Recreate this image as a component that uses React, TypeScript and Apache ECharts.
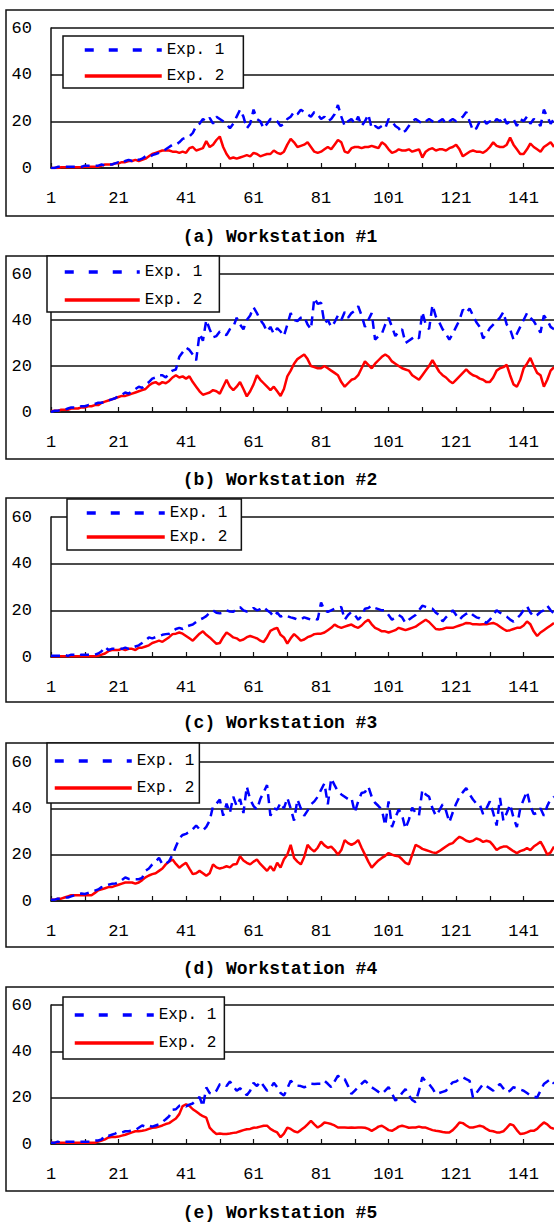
import React, { useEffect, useRef } from "react";
import * as echarts from "echarts";

// ---------------- DATA ----------------
const categories: string[] = Array.from({ length: 150 }, (_, i) => String(i + 1));
const seriesNames = ["Exp. 1", "Exp. 2"];
const captions = [
  "(a) Workstation #1",
  "(b) Workstation #2",
  "(c) Workstation #3",
  "(d) Workstation #4",
  "(e) Workstation #5",
];
const yMin = 0;
const yMax = 60;
const yStep = 20;

const ws1Exp1 = [
  0, 0, 0.5, 0.5, 0.5, 0.5, 0.5, 0.5, 0.5, 0.5,
  1, 1, 1, 1, 1, 1.5, 1, 1.5, 1.5, 2,
  2.5, 2, 3, 3.5, 3, 4, 3.5, 4, 5, 4.5,
  5.5, 6, 6.5, 7, 8, 9, 10, 10, 11, 12.5,
  13, 13.5, 15, 18, 19, 21, 20, 21.5, 19, 22,
  21, 20, 19, 17, 19, 22, 25, 22, 17, 19,
  25, 21, 20, 17, 19, 21, 21, 20, 18, 19,
  21, 22, 24, 23, 25, 24, 23, 22, 24, 23,
  21, 22, 20, 21, 23, 27, 22, 18, 20, 21,
  19, 22, 18, 20, 23, 17, 18, 17, 18, 17,
  21, 20, 18, 17, 15, 16, 18, 20, 21, 20,
  19, 20, 21, 20, 19, 20, 21, 19, 20, 21,
  20, 21, 22, 24, 20, 16, 17, 20, 21, 19,
  20, 19, 21, 20, 22, 19, 20, 21, 18, 21,
  20, 22, 19, 21, 20, 18, 25, 22, 19, 21,
];
const ws1Exp2 = [
  0, 0, 0, 0.3, 0.3, 0.3, 0.3, 0.3, 0.3, 0.3,
  0.5, 0.5, 0.5, 0.5, 0.5, 1, 1.5, 1.5, 1.5, 2,
  2, 2.5, 2.5, 3, 3, 3.5, 3, 3.5, 4, 5,
  6, 6.5, 7, 7.5, 7.5, 7.5, 7, 7, 6.5, 7,
  6.5, 8.5, 9, 7.5, 8, 8.5, 11.5, 9, 10, 12,
  13.5, 9, 6, 4, 4.5, 4, 4.5, 5, 5.5, 5,
  6.5, 6, 5, 5.5, 6, 6, 7.5, 6.5, 6, 7,
  10, 12.5, 11, 9, 9.5, 10, 11, 9, 7, 6.5,
  7, 8, 9, 8, 10, 12, 11, 7, 6.5, 8.5,
  9, 9, 8.5, 9, 9, 9.5, 9, 8.5, 11, 10,
  8, 6.5, 7, 8, 7.5, 7.5, 8, 7, 7.5, 8,
  4.5, 7, 8, 8.5, 7.5, 8, 8, 7.5, 8.5, 9,
  10, 8, 5, 6, 7, 7.5, 7, 7, 6.5, 7.5,
  9, 11, 9.5, 9, 9, 10, 13, 10, 8, 6,
  6, 8, 10.5, 9, 8, 7, 9, 10, 11, 9,
];
const ws2Exp1 = [
  0, 0.5, 0.5, 1, 1, 1.5, 2, 2, 2, 2.5,
  2.5, 3, 3, 3.5, 4, 4, 4.5, 5, 5.5, 6,
  7, 7.5, 8.5, 8, 9, 10, 11, 10.5, 12, 13,
  14.5, 15, 16, 16, 15, 17, 18, 18.5, 24, 26,
  28, 27, 25, 22.5, 34, 31, 40, 36, 32.5, 33,
  35, 34, 33.5, 36, 37, 41, 38, 36, 40, 42,
  45.5, 43, 40, 38, 35, 37, 34, 36.5, 35, 33,
  38, 43, 40, 39.5, 41, 41.5, 38, 36, 49.5, 47,
  47.5, 38.5, 40, 37, 39, 42, 40, 43.5, 41, 43,
  44, 46, 42, 37, 40, 43, 31.5, 33, 34, 38,
  41, 37, 33, 35, 36, 30, 31, 32, 33, 32,
  43.5, 38, 36, 46.5, 41.5, 39, 36, 34, 31.5, 34,
  37, 40, 44.5, 43, 45, 42, 39, 37, 32, 34,
  36.5, 38, 39.5, 41, 43.5, 38, 36, 31.5, 34, 37,
  40, 43, 41, 39.5, 37, 34.5, 42, 40, 37, 36,
];
const ws2Exp2 = [
  0.3, 0.5, 0.5, 1, 1, 1, 1.5, 1.5, 1.5, 2,
  2, 2.5, 2.5, 3, 3, 4, 4.5, 5, 5.5, 6,
  6.5, 7, 7, 7.5, 8, 8.5, 9, 9.5, 10, 11.5,
  12.5, 13, 12, 13, 12.5, 13.5, 15, 16, 15, 15.5,
  14.5, 15.5, 13, 11, 9, 7.5, 8, 8.5, 9.5, 9,
  8, 11, 14, 11, 9.5, 11, 13, 10, 6.8, 9,
  12, 16, 14, 12.5, 11, 9.5, 11, 9, 7, 10,
  15.5, 18, 21, 23, 24, 25, 23, 20, 19.5, 19,
  19, 20, 19, 18, 17, 16, 13, 11, 12.5, 14,
  14.5, 16, 19, 22, 20.5, 19, 21, 22.5, 24, 25,
  24, 22, 21, 20, 19, 18.5, 18, 16, 15, 14,
  16, 18, 20, 22.5, 20, 17.5, 16, 15, 13.5, 12.5,
  14, 15.5, 17, 18.5, 17, 16, 15.5, 14.5, 14, 13,
  13, 15, 18, 19, 19.5, 20.5, 16, 12, 11, 14,
  19, 21, 23.5, 20, 17, 16, 11, 14, 18, 19.5,
];
const ws3Exp1 = [
  0.5, 0.5, 0.5, 0.5, 1, 0.5, 1, 1, 0.5, 1,
  1, 1, 1, 1, 1.5, 2.5, 4.4, 3, 3.5, 3.5,
  3.5, 3.5, 4, 3.5, 4, 4.5, 5, 6, 7, 8.4,
  8, 8.5, 9, 9.5, 9.8, 10, 11, 12, 12.5, 12,
  13, 13.5, 13.9, 15, 16, 16.6, 17.5, 19, 20, 19,
  18.7, 19, 20, 19.5, 19.4, 20.5, 21.4, 20, 19.5, 20,
  21, 20, 20.5, 21.4, 20, 19, 17.3, 19, 17.3, 18,
  17.5, 17, 16.6, 16, 16, 17, 16.5, 16, 16.5, 16,
  23.4, 20, 19.3, 20, 20.7, 21, 21.4, 16, 18, 19.3,
  18, 16, 17.5, 20.7, 21, 22, 21, 20.5, 20, 20,
  18, 16, 17, 18, 17, 14.6, 16, 17, 18, 20,
  22, 21.5, 21, 20.7, 19, 18, 15.2, 17, 18.5, 20,
  18, 16, 17.5, 18.5, 19.3, 18, 17, 16.6, 15.5, 14.6,
  16, 18, 20, 19, 18, 17.3, 16, 15.2, 16.5, 18,
  20, 21.8, 19, 17.3, 18, 19.3, 20, 22, 20, 18.7,
];
const ws3Exp2 = [
  0.3, 0.3, 0.3, 0.3, 0.3, 0.3, 0.3, 0.3, 0.3, 0.3,
  0.3, 0.3, 0.3, 0.3, 0.5, 1, 1.5, 2.5, 3, 3,
  3, 3.5, 3, 3.5, 3.5, 3, 4, 4, 4.5, 5,
  6, 6.5, 7, 6.5, 7.5, 8.5, 9.8, 10, 10.5, 10,
  9, 8, 7, 8.5, 10, 11, 9.5, 8.4, 7, 5.7,
  6, 8.5, 10.5, 9.5, 8.4, 8, 7, 7.5, 8.5, 9,
  8.5, 8, 7, 6.4, 8.5, 11.2, 12, 12.5, 9.5, 8.4,
  5.7, 8, 9.8, 8.5, 7, 7.5, 8.5, 9, 9.8, 10,
  10, 10.5, 11.5, 12.5, 13.9, 13, 12.5, 13, 13.5, 13.9,
  13, 12.5, 13.5, 15, 16, 14, 12.5, 11.8, 11, 11,
  10.5, 11, 11.5, 12.5, 12, 11.5, 12, 12.5, 13, 14,
  15, 16, 15, 13.5, 12, 11.8, 12, 12.5, 12.5, 12.5,
  13, 13.5, 14, 14.6, 14.5, 14, 14, 13.9, 14, 14,
  14.3, 14.6, 14, 13, 12, 11.2, 11.5, 12, 12.5, 12.5,
  13.5, 15.2, 14, 11, 9, 10.5, 11.5, 12.5, 13.5, 14.6,
];
const ws4Exp1 = [
  0.5, 0.5, 1, 1, 1.5, 1.5, 2, 2.5, 3, 3.2,
  3, 3.5, 4, 4.5, 5, 6, 6.5, 7, 7.4, 7.5,
  8, 9, 10.2, 9.5, 9.5, 9.4, 9.4, 10, 13, 14,
  15.8, 17, 18.6, 15.8, 16, 17.2, 20, 23.5, 27, 28.5,
  29, 29.8, 31, 32.6, 31, 30.5, 32, 34.7, 41, 42,
  43.8, 36.8, 42, 38, 45, 41, 44, 38, 49.4, 43.8,
  41, 39.5, 44, 47, 50, 36.8, 40, 39.5, 42.4, 40,
  44.5, 40, 34.7, 43.8, 40, 36.8, 39, 41.7, 43, 45,
  48, 50.8, 41.7, 52.9, 50, 47.3, 46, 45, 44, 44.5,
  38.2, 43, 46.6, 47, 49.4, 45, 42.4, 41, 39.5, 32.6,
  43, 31.9, 36, 39.5, 37, 31.2, 35, 40.3, 38, 36.8,
  48, 46, 45, 40, 36.8, 39, 41.7, 39, 34, 38.2,
  42, 45, 47, 48.7, 46, 43.8, 42, 41.7, 37.5, 40,
  43, 38, 32.6, 44.5, 34.7, 38, 41.7, 36, 31.9, 40,
  43.8, 47.3, 41, 37.5, 38, 40, 36.8, 41, 44, 45,
];
const ws4Exp2 = [
  0.5, 0.5, 1, 1, 1.5, 2, 2.5, 2.5, 2.5, 2.5,
  2.5, 2.5, 2.5, 3.5, 4.6, 5, 5.5, 6, 6, 6.5,
  7, 7.5, 8, 8, 8, 7.5, 8, 9, 10.2, 11,
  11.6, 12, 13, 14, 15.8, 17, 17.9, 16, 14.4, 15.5,
  16.5, 14, 11.6, 12, 13, 12, 10.9, 12, 15.8, 14.5,
  14, 14.4, 15, 14.5, 15.8, 16, 19.3, 17.5, 16.5, 15.8,
  17, 17.9, 16, 14.5, 13, 15, 13, 16.5, 14.4, 18,
  20, 24.2, 18.6, 17, 15.8, 19, 24.2, 22.5, 21.4, 23,
  25.6, 24, 23, 23.5, 22, 20, 22, 26.3, 25, 24.2,
  25, 26.3, 23, 20, 17, 14.4, 16, 17.5, 18.6, 19.5,
  20.7, 20, 19.5, 19.3, 18, 16.5, 15.8, 20, 24.2, 23.5,
  22.5, 22, 21.5, 21, 20.7, 21.5, 22.5, 23.5, 24.5, 25,
  26.5, 27.7, 27, 26, 25.6, 26, 27, 26.5, 25.5, 26,
  25.6, 24, 22, 23, 23.5, 23.5, 22.5, 21.5, 20.7, 21.5,
  22, 22.8, 22, 23.5, 24.5, 25.6, 23, 20, 21, 23.5,
];
const ws5Exp1 = [
  0.5, 0.5, 1, 0.5, 1, 1, 1, 1, 1, 1,
  1, 1, 1, 1.5, 1.5, 2, 3.8, 3.5, 4, 4.5,
  5.2, 5, 5.5, 5.5, 5.9, 6, 7, 8, 7.5, 8,
  7.5, 8, 8.5, 9.5, 10.7, 12, 14.8, 15, 16.5, 16.8,
  16.2, 17, 17.5, 19, 20.3, 16.2, 24.4, 22, 21.6, 23,
  25.8, 26, 25, 27, 25, 23, 24, 23, 21, 23,
  26.4, 25, 27, 25, 23, 24, 26.4, 24.5, 22, 20.9,
  24, 27.3, 26, 25.2, 25, 24.5, 25, 26, 25.9, 26,
  26, 27.3, 26, 24.5, 27, 29.5, 28, 28, 25, 21.6,
  23, 24.5, 26, 27.3, 26, 24.5, 23.5, 22.5, 21.6, 23,
  24.5, 22, 18.7, 20, 22, 23.7, 21, 19, 18, 23,
  28.8, 27, 25.9, 24, 21.6, 22, 22.5, 23, 25, 26.6,
  27, 28, 28.8, 28, 27.3, 20.1, 22, 24, 25.9, 25,
  24, 23, 24.5, 25.9, 24, 22.3, 23, 24.5, 24, 23.5,
  23, 22, 21, 20.5, 20.1, 23, 25.9, 27, 28, 26,
];
const ws5Exp2 = [
  0.5, 0.5, 0.5, 0.5, 0.5, 0.5, 0.5, 0.5, 0.5, 0.5,
  0.5, 0.5, 0.5, 0.5, 1, 1.5, 2, 2.8, 3, 3,
  3.2, 3.6, 4, 4.5, 5, 5.5, 5.5, 5.7, 6, 6.5,
  7, 7.1, 7.5, 8, 8.6, 9, 10, 11, 12.9, 16.4,
  17.1, 16.5, 15, 14, 12.9, 12, 11.4, 7.1, 5.5, 4.3,
  4.5, 4.3, 4.3, 4.5, 4.8, 5, 5.5, 6, 6.4, 6.5,
  7, 7.1, 7.5, 7.9, 7.9, 6.5, 5.7, 5, 2.9, 4.5,
  7.1, 6.5, 5.5, 5, 6, 7.1, 8.5, 10, 8.5, 7.1,
  8, 9.3, 9, 8.6, 8, 7.1, 7.1, 7.1, 7, 7.1,
  7, 7.1, 7.1, 7, 6.5, 5.7, 6.5, 7.5, 7.9, 7,
  6, 5.7, 6.5, 7.5, 7.9, 7.5, 7, 7.1, 7.1, 7.5,
  7.1, 7.1, 6.5, 6, 5.7, 5.5, 5.2, 5, 5, 6,
  7.5, 9.3, 9, 8, 7.1, 7.1, 7.5, 7.9, 7.5, 6.5,
  5.7, 5.5, 5, 5, 5.5, 7, 8.6, 8, 6, 4.3,
  4.5, 5, 5.7, 5.7, 6.5, 8, 9.3, 8.5, 7.1, 6.5,
];

const exp1Series = [ws1Exp1, ws2Exp1, ws3Exp1, ws4Exp1, ws5Exp1];
const exp2Series = [ws1Exp2, ws2Exp2, ws3Exp2, ws4Exp2, ws5Exp2];

// ---------------- LAYOUT / STYLE ----------------
const FONT = "'Liberation Mono', 'DejaVu Sans Mono', monospace";
const INK = "#111";

const panels = [
  { boxTop: 10, boxBottom: 216, gridTop: 28, gridH: 140, captionY: 237,
    legend: { left: 63, top: 36, padding: [5, 19, 3, 20], itemWidth: 77, itemGap: 8 } },
  { boxTop: 256, boxBottom: 459, gridTop: 274, gridH: 138, captionY: 480,
    legend: { left: 47, top: 256, padding: [7, 17, 3, 16], itemWidth: 75, itemGap: 10 } },
  { boxTop: 498, boxBottom: 702, gridTop: 517, gridH: 140, captionY: 723,
    legend: { left: 67, top: 499, padding: [5, 14, 4, 18], itemWidth: 78, itemGap: 6 } },
  { boxTop: 743, boxBottom: 947, gridTop: 762, gridH: 139, captionY: 969,
    legend: { left: 47, top: 743, padding: [9, 5, 6, 6], itemWidth: 77, itemGap: 9 } },
  { boxTop: 987, boxBottom: 1191, gridTop: 1005, gridH: 139, captionY: 1213,
    legend: { left: 63, top: 997, padding: [9, 8, 7, 10], itemWidth: 79, itemGap: 10 } },
];

export default function App() {
  const ref = useRef<HTMLDivElement>(null);

  useEffect(() => {
    if (!ref.current) return;
    const chart = echarts.init(ref.current, undefined, { renderer: "svg" });

    const grid = panels.map((p) => ({
      left: 51,
      right: 0,
      top: p.gridTop,
      height: p.gridH,
      containLabel: false,
    }));

    const xAxis = panels.map((_, k) => ({
      type: "category",
      gridIndex: k,
      data: categories,
      boundaryGap: false,
      axisLine: { show: true, lineStyle: { color: INK, width: 1.5 } },
      axisTick: { show: true, inside: true, length: 5, interval: 9, lineStyle: { color: INK, width: 1.2 } },
      axisLabel: {
        interval: 19,
        margin: 22,
        color: "#000",
        fontFamily: FONT,
        fontSize: 17,
      },
      splitLine: { show: false },
    }));

    const yAxis = panels.map((_, k) => ({
      type: "value",
      gridIndex: k,
      min: yMin,
      max: yMax,
      interval: yStep,
      axisLine: { show: true, lineStyle: { color: INK, width: 1.5 } },
      axisTick: { show: false },
      axisLabel: { margin: 19, color: "#000", fontFamily: FONT, fontSize: 17 },
      splitLine: { show: true, lineStyle: { color: INK, width: 1.5 } },
    }));

    const series: any[] = [];
    panels.forEach((_, k) => {
      series.push({
        name: seriesNames[0],
        type: "line",
        xAxisIndex: k,
        yAxisIndex: k,
        data: exp1Series[k],
        symbol: "none",
        z: 3,
        lineStyle: { color: "#0000ff", width: 2.5, type: [9, 6] },
        itemStyle: { color: "#0000ff" },
      });
      series.push({
        name: seriesNames[1],
        type: "line",
        xAxisIndex: k,
        yAxisIndex: k,
        data: exp2Series[k],
        symbol: "none",
        z: 2,
        lineStyle: { color: "#ff0000", width: 2.5 },
        itemStyle: { color: "#ff0000" },
      });
    });

    const legend = panels.map((p) => ({
      orient: "vertical",
      left: p.legend.left,
      top: p.legend.top,
      padding: p.legend.padding,
      itemWidth: p.legend.itemWidth,
      itemHeight: 14,
      itemGap: p.legend.itemGap,
      backgroundColor: "#fff",
      borderColor: INK,
      borderWidth: 1.5,
      borderRadius: 0,
      selectedMode: false,
      textStyle: { color: "#000", fontFamily: FONT, fontSize: 16, lineHeight: 18 },
      data: [
        {
          name: seriesNames[0],
          itemStyle: { opacity: 0 },
          lineStyle: { type: [9, 15], width: 3.5, color: "#0000ff", opacity: 1 },
        },
        {
          name: seriesNames[1],
          itemStyle: { opacity: 0 },
          lineStyle: { type: "solid", width: 3.5, color: "#ff0000", opacity: 1 },
        },
      ],
    }));

    const graphic: any[] = [];
    panels.forEach((p, k) => {
      graphic.push({
        type: "rect",
        z: -1,
        silent: true,
        shape: { x: 6, y: p.boxTop, width: 700, height: p.boxBottom - p.boxTop },
        style: { fill: "none", stroke: INK, lineWidth: 1.5 },
      });
      graphic.push({
        type: "text",
        x: 280,
        y: p.captionY,
        silent: true,
        style: {
          text: captions[k],
          fill: "#000",
          font: `bold 18px ${FONT}`,
          textAlign: "center",
          textVerticalAlign: "middle",
        },
      });
    });

    chart.setOption({
      animation: false,
      backgroundColor: "#fff",
      grid,
      xAxis,
      yAxis,
      legend,
      series,
      graphic,
    } as any);

    return () => chart.dispose();
  }, []);

  return (
    <div
      ref={ref}
      style={{ position: "absolute", left: 0, top: 0, width: 554, height: 1223, background: "#fff" }}
    />
  );
}
